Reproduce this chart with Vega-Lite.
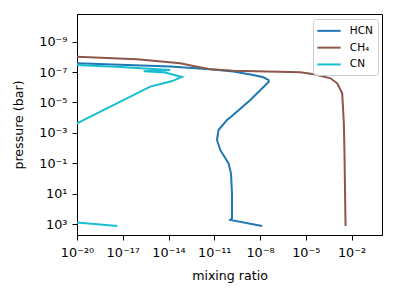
{
  "$schema": "https://vega.github.io/schema/vega-lite/v6.json",
  "width": 305,
  "height": 221,
  "autosize": {"type": "none"},
  "padding": {"left": 77, "top": 14, "right": 14, "bottom": 62},
  "background": "white",
  "config": {
    "font": "DejaVu Sans",
    "view": {"stroke": "#000000", "strokeWidth": 1},
    "axis": {
      "grid": false,
      "domainColor": "#000000",
      "domainWidth": 1,
      "tickColor": "#000000",
      "tickWidth": 1,
      "tickSize": 5,
      "labelColor": "#000000",
      "labelFont": "DejaVu Sans",
      "labelFontSize": 12.8,
      "labelPadding": 4,
      "labelOverlap": false,
      "labelFlush": false,
      "titleColor": "#000000",
      "titleFont": "DejaVu Sans",
      "titleFontSize": 12.6,
      "titleFontWeight": "normal"
    }
  },
  "data": {
    "values": [
      {"species": "HCN", "x": 1e-22, "p": 2.0e-8},
      {"species": "HCN", "x": 9.5e-21, "p": 2.63e-8},
      {"species": "HCN", "x": 1.29e-14, "p": 4.37e-8},
      {"species": "HCN", "x": 5.5e-12, "p": 6.6e-8},
      {"species": "HCN", "x": 1.78e-10, "p": 9.3e-8},
      {"species": "HCN", "x": 3.6e-9, "p": 1.55e-7},
      {"species": "HCN", "x": 1.66e-8, "p": 2.19e-7},
      {"species": "HCN", "x": 3.55e-8, "p": 3.3e-7},
      {"species": "HCN", "x": 3.8e-8, "p": 4.17e-7},
      {"species": "HCN", "x": 3.0e-8, "p": 5.5e-7},
      {"species": "HCN", "x": 2.34e-9, "p": 6.9e-6},
      {"species": "HCN", "x": 1.32e-10, "p": 8.5e-5},
      {"species": "HCN", "x": 6.9e-11, "p": 1.41e-4},
      {"species": "HCN", "x": 1.9e-11, "p": 6.5e-4},
      {"species": "HCN", "x": 1.51e-11, "p": 2.95e-3},
      {"species": "HCN", "x": 2.51e-11, "p": 1.38e-2},
      {"species": "HCN", "x": 8.7e-11, "p": 0.102},
      {"species": "HCN", "x": 1.26e-10, "p": 0.479},
      {"species": "HCN", "x": 1.45e-10, "p": 9.3},
      {"species": "HCN", "x": 1.45e-10, "p": 417},
      {"species": "HCN", "x": 1.12e-10, "p": 537},
      {"species": "HCN", "x": 1.38e-8, "p": 1349},
      {"species": "CH₄", "x": 1e-22, "p": 7.6e-9},
      {"species": "CH₄", "x": 1e-20, "p": 9.8e-9},
      {"species": "CH₄", "x": 8.7e-17, "p": 1.45e-8},
      {"species": "CH₄", "x": 5.9e-14, "p": 2.63e-8},
      {"species": "CH₄", "x": 4.2e-13, "p": 3.98e-8},
      {"species": "CH₄", "x": 5.5e-12, "p": 6.6e-8},
      {"species": "CH₄", "x": 1.78e-10, "p": 8.1e-8},
      {"species": "CH₄", "x": 4.5e-6, "p": 1.02e-7},
      {"species": "CH₄", "x": 3.4e-5, "p": 1.38e-7},
      {"species": "CH₄", "x": 4.2e-4, "p": 2.57e-7},
      {"species": "CH₄", "x": 1.15e-3, "p": 5.5e-7},
      {"species": "CH₄", "x": 2.45e-3, "p": 2.45e-6},
      {"species": "CH₄", "x": 3.16e-3, "p": 2.34e-4},
      {"species": "CH₄", "x": 3.47e-3, "p": 2.19e-2},
      {"species": "CH₄", "x": 4.07e-3, "p": 1349},
      {"species": "CN", "x": 1e-22, "p": 2.82e-8},
      {"species": "CN", "x": 1e-20, "p": 3.39e-8},
      {"species": "CN", "x": 6.8e-18, "p": 4.57e-8},
      {"species": "CN", "x": 1.29e-14, "p": 7.2e-8},
      {"species": "CN", "x": 2.34e-16, "p": 8.9e-8},
      {"species": "CN", "x": 6.0e-15, "p": 1.07e-7},
      {"species": "CN", "x": 7.6e-14, "p": 2.09e-7},
      {"species": "CN", "x": 1.74e-14, "p": 3.9e-7},
      {"species": "CN", "x": 4.7e-15, "p": 5.5e-7},
      {"species": "CN", "x": 6.3e-16, "p": 9.1e-7},
      {"species": "CN", "x": 1e-20, "p": 2.34e-4},
      {"species": "CN", "x": 1e-24, "p": 3.16e-2},
      {"species": "CN", "x": 1e-24, "p": 398},
      {"species": "CN", "x": 1.58e-22, "p": 537},
      {"species": "CN", "x": 4.4e-18, "p": 1349}
    ]
  },
  "mark": {"type": "line", "clip": true, "strokeWidth": 2},
  "encoding": {
    "x": {
      "field": "x",
      "type": "quantitative",
      "scale": {"type": "log", "domain": [1e-20, 1], "nice": false},
      "axis": {
        "title": "mixing ratio",
        "titlePadding": 11,
        "labelPadding": 6,
        "values": [1e-20, 1e-17, 1e-14, 1e-11, 1e-8, 1e-5, 1e-2],
        "labelExpr": "'10' + ['⁻²⁰','⁻¹⁷','⁻¹⁴','⁻¹¹','⁻⁸','⁻⁵','⁻²'][round((log(datum.value)/LN10 + 20)/3)]"
      }
    },
    "y": {
      "field": "p",
      "type": "quantitative",
      "scale": {"type": "log", "domain": [1.51e-11, 5250], "nice": false, "reverse": true},
      "axis": {
        "title": "pressure (bar)",
        "titlePadding": 13,
        "labelPadding": 5,
        "values": [1e-9, 1e-7, 1e-5, 1e-3, 1e-1, 10, 1000],
        "labelExpr": "'10' + ['⁻⁹','⁻⁷','⁻⁵','⁻³','⁻¹','¹','³'][round((log(datum.value)/LN10 + 9)/2)]"
      }
    },
    "color": {
      "field": "species",
      "type": "nominal",
      "scale": {"domain": ["HCN", "CH₄", "CN"], "range": ["#1f77b4", "#8c564b", "#17becf"]},
      "legend": {
        "title": null,
        "orient": "none",
        "legendX": 236,
        "legendY": 5,
        "padding": 4.85,
        "symbolType": "M-1.25,0H2.63",
        "symbolSize": 144,
        "symbolStrokeWidth": 2,
        "labelOffset": 18,
        "rowPadding": 3.8,
        "labelFont": "DejaVu Sans",
        "labelFontSize": 10.5,
        "labelColor": "#000000",
        "strokeColor": "#cccccc",
        "fillColor": "rgba(255,255,255,0.8)",
        "cornerRadius": 3
      }
    },
    "order": {"value": null}
  }
}
